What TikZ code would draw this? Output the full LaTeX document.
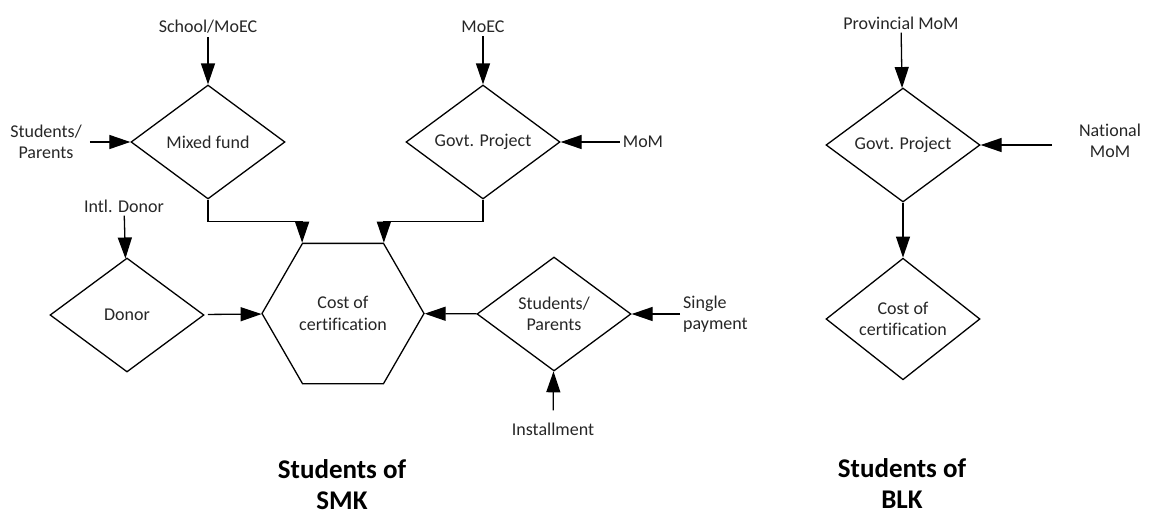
\documentclass[tikz,border=0pt]{standalone}
\usepackage{fontspec}
\setmainfont{Carlito}[Ligatures=NoCommon]
\usetikzlibrary{shapes.geometric,arrows.meta}
\definecolor{txtgray}{HTML}{262626}
\begin{document}
\begin{tikzpicture}[x=1pt,y=-1pt,
  every node/.style={text=txtgray, font=\fontsize{18}{21.5}\selectfont},
  dia/.style={draw=black, line width=1.3pt, diamond, minimum width=154pt,
    minimum height=114pt, inner sep=0pt, align=center},
  hexa/.style={draw=black, line width=1.3pt, regular polygon,
    regular polygon sides=6, minimum size=162pt, inner sep=0pt, align=center},
  lbl/.style={inner sep=3pt, align=center},
  heading/.style={font=\fontsize{27}{31}\selectfont\bfseries, text=black, align=center},
  arr/.style={line width=1.3pt, -{Triangle[length=21pt,width=14pt]}}
]
\useasboundingbox (0,0) rectangle (1152,515);

% ---- Students of SMK ----
\node[dia] (mix) at (208,142) {Mixed fund};
\node[lbl] (school) at (208,27) {School/MoEC};
\node[lbl] (sp1) at (46,142) {Students/\\Parents};

\node[dia] (gov1) at (483,142) {Govt. Project};
\node[lbl] (moec) at (483,27) {MoEC};
\node[lbl] (mom) at (643,142) {MoM};

\node[hexa] (hex) at (343,313.5) {Cost of\\certification};

\node[dia] (donor) at (127,315) {Donor};
\node[lbl] (intl) at (124,206) {Intl. Donor};

\node[dia] (sp2) at (554,314) {Students/\\Parents};
\node[lbl, anchor=west, align=left] (single) at (680,314) {Single\\payment};
\node[lbl] (install) at (553,429) {Installment};

\node[heading] (smk) at (342,485) {Students of\\SMK};

\draw[arr] (school) -- (mix);
\draw[arr, shorten <=5pt] (sp1) -- (mix);
\draw[arr] (moec) -- (gov1);
\draw[arr] (mom) -- (gov1);
\draw[arr] (mix.south) -- ++(0,22) -| (hex.120);
\draw[arr] (gov1.south) -- ++(0,22) -| (hex.60);
\draw[arr] (intl) -- (donor);
\draw[arr, shorten <=4pt] (donor) -- (hex);
\draw[arr] (sp2) -- (hex);
\draw[arr] (single) -- (sp2);
\draw[arr, shorten <=9pt] (install) -- (sp2);

% ---- Students of BLK ----
\node[dia] (gov2) at (903,145) {Govt. Project};
\node[lbl] (prov) at (901,23) {Provincial MoM};
\node[lbl] (natl) at (1110,141) {National\\MoM};
\coordinate (natlstart) at (1052,145);
\node[dia] (cost2) at (903,319) {Cost of\\certification};

\node[heading] (blk) at (902,484) {Students of\\BLK};

\draw[arr] (prov) -- (gov2);
\draw[arr] (natlstart) -- (gov2);
\draw[arr] (gov2) -- (cost2);
\end{tikzpicture}
\end{document}
